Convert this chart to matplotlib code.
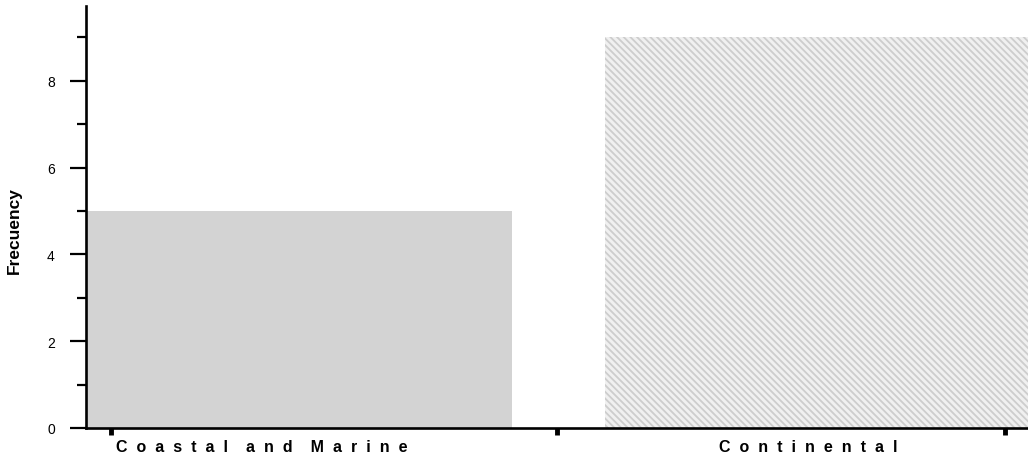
import numpy as np
import matplotlib.pyplot as plt
from matplotlib.ticker import MultipleLocator

plt.rcParams['font.family'] = ['Liberation Sans', 'DejaVu Sans']
plt.rcParams['hatch.linewidth'] = 1.3

# Frequency of each environment group
groups = ['Coastal and Marine', 'Continental']
counts = [5, 9]
xpos = [0, 1]
label_x = [-0.071, 0.981]   # where the group names sit under the axis
xticks = [-0.362, 0.497, 1.36]


def spaced(s):
    # wide letter spacing for the category names
    return '    '.join('  '.join(w) for w in s.split())


fig = plt.figure(figsize=(10.28, 4.6), dpi=100)
ax = fig.add_axes([0.0837, 0.0674, 0.9163, 0.917])

ax.bar(xpos[0], counts[0], width=0.82, color='#d3d3d3', linewidth=0)
ax.bar(xpos[1], counts[1], width=0.82, facecolor='#f0f0f0', edgecolor='#cdcdcd',
       hatch='\\' * 5, linewidth=0)

ax.set_xlim(-0.41, 1.405)
ax.set_ylim(0, 9.72)

for side in ['top', 'right']:
    ax.spines[side].set_visible(False)
for side in ['left', 'bottom']:
    ax.spines[side].set_linewidth(1.9)

ax.yaxis.set_major_locator(MultipleLocator(2))
ax.yaxis.set_minor_locator(MultipleLocator(1))
ax.tick_params(axis='y', which='major', length=11.5, width=1.6, pad=11, labelsize=10)
ax.tick_params(axis='y', which='minor', length=6.5, width=1.6)

ax.set_xticks(xticks)
ax.set_xticklabels([])
ax.tick_params(axis='x', which='major', length=5, width=3.5)

for x, g in zip(label_x, groups):
    ax.text(x, -0.045, spaced(g), transform=ax.get_xaxis_transform(),
            ha='center', va='center', fontsize=11.5, fontweight='bold')

ax.set_ylabel('Frecuency', fontsize=12.5, fontweight='bold')
ax.yaxis.set_label_coords(-0.0685, 0.47)

fig.savefig('out.png', dpi=100)
